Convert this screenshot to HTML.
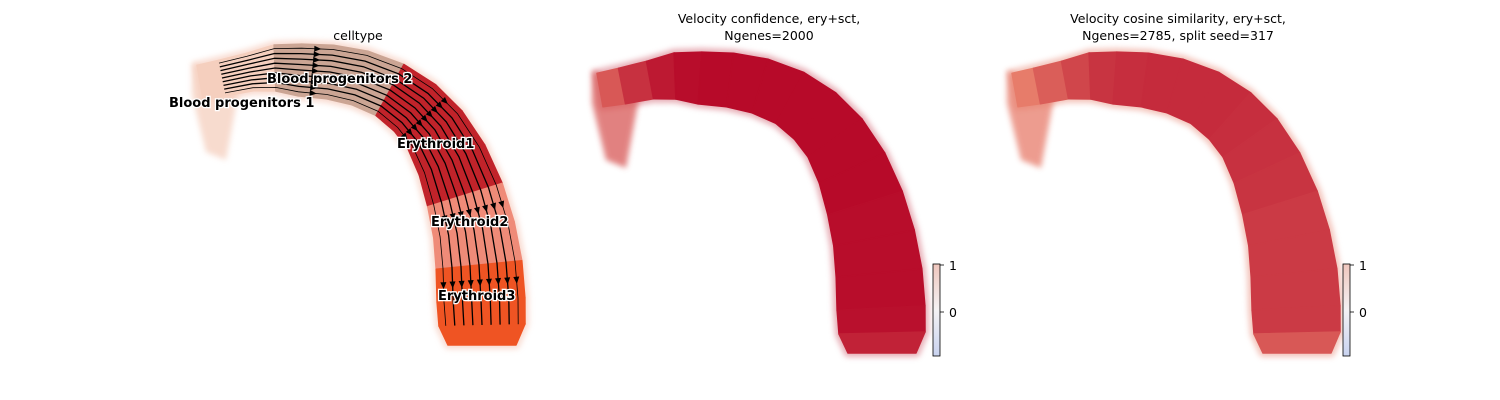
<!DOCTYPE html>
<html><head><meta charset="utf-8">
<style>
body{margin:0;background:#fff;}
svg{display:block;font-family:"DejaVu Sans","Liberation Sans",sans-serif;}
</style></head>
<body>
<svg id="fig" width="1500" height="400" viewBox="0 0 1500 400" xmlns="http://www.w3.org/2000/svg">
<defs>
<linearGradient id="cbar" x1="0" y1="1" x2="0" y2="0">
<stop offset="0" stop-color="#c9d3f0"/><stop offset="0.5" stop-color="#f4f2f4"/><stop offset="1" stop-color="#efc6bd"/>
</linearGradient>
<filter id="soft" x="-20%" y="-20%" width="140%" height="140%"><feGaussianBlur stdDeviation="3"/></filter>
</defs>
<g id="p1"></g>
<g id="p2"></g>
<g id="p3"></g>
<g font-size="12.5" fill="#000" text-anchor="middle">
<text x="358" y="40">celltype</text>
<text x="769" y="23">Velocity confidence, ery+sct,</text>
<text x="769" y="40">Ngenes=2000</text>
<text x="1178" y="23">Velocity cosine similarity, ery+sct,</text>
<text x="1178" y="40">Ngenes=2785, split seed=317</text>
</g>
</svg>
<script>
// trajectory centreline (panel-1 coordinates) and band widths
const trajX = [200,222,250,275,300,330,360,390,415,435,452,465,474,479,481,482,482];
const trajY = [82,78,72,68,70,72,78,90,108,130,160,195,230,265,300,325,345];
const trajW = [34,36,38,46,52,54,56,58,62,66,72,78,82,86,88,86,68];
// cell type per segment
const cellTypes = ["BP1","BP1","BP1","BP2","BP2","BP2","BP2","Ery1","Ery1","Ery1","Ery1","Ery2","Ery2","Ery3","Ery3","Ery3"];
const typeColor = {BP1:"#f5cfbe",BP2:"#cba594",Ery1:"#c1232a",Ery2:"#ef8b78",Ery3:"#ef5423"};
// velocity confidence per segment
const confidence = [0.72,0.85,0.93,0.97,0.98,0.98,0.98,0.98,0.98,0.98,0.98,0.97,0.97,0.97,0.96,0.9];
// cosine similarity per segment
const cosine = [0.6,0.7,0.78,0.84,0.86,0.87,0.87,0.87,0.86,0.85,0.84,0.82,0.82,0.82,0.82,0.72];
const labels = ["Blood progenitors 1","Blood progenitors 2","Erythroid1","Erythroid2","Erythroid3"];
const labelX = [169,267,397,431,438];
const labelY = [107,83,148,226,300];
const cbarTicks = [1,0];

const NS="http://www.w3.org/2000/svg";
function mk(tag,attrs,parent){const e=document.createElementNS(NS,tag);for(const k in attrs)e.setAttribute(k,attrs[k]);parent.appendChild(e);return e;}
function lerp(a,b,t){return a.map((v,i)=>Math.round(v+(b[i]-v)*t));}
function coolwarm(v){
  const blue=[60,78,194],lb=[141,176,254],white=[221,221,221],lr=[244,154,123],red=[180,4,38];
  let c;
  if(v>=0.5)c=lerp(lr,red,(v-0.5)*2);else if(v>=0)c=lerp(white,lr,v*2);
  else if(v>=-0.5)c=lerp(white,lb,-v*2);else c=lerp(lb,blue,(-v-0.5)*2);
  return "rgb("+c.join(",")+")";
}
function normal(i){
  const i0=Math.max(i-1,0),i1=Math.min(i+1,trajX.length-1);
  const tx=trajX[i1]-trajX[i0],ty=trajY[i1]-trajY[i0];const L=Math.hypot(tx,ty);
  return [-ty/L,tx/L];
}
function edgePt(i,off,dx,dy){const n=normal(i);return [trajX[i]+n[0]*off+dx,trajY[i]+n[1]*off+dy];}
function band(g,dx,dy,colorFn,edgeCol){
  const n=trajX.length;let L=[],R=[];
  for(let i=0;i<n;i++){L.push(edgePt(i,trajW[i]/2,dx,dy));R.push(edgePt(i,-trajW[i]/2,dx,dy));}
  const outline=L.concat(R.slice().reverse()).map(p=>p.map(v=>v.toFixed(1)).join(",")).join(" ");
  const o=mk("polygon",{points:outline,fill:edgeCol,stroke:edgeCol,"stroke-width":8,"stroke-linejoin":"round",opacity:0.5,filter:"url(#soft)"},g);
  
  
  const t=mk("polygon",{points:`${dx+192},${dy+62} ${dx+240},${dy+84} ${dx+226},${dy+160} ${dx+206},${dy+152} ${dx+192},${dy+95}`,fill:colorFn(0),opacity:0.75,filter:"url(#soft)"},g);
  
  
  for(let i=0;i<n-1;i++){
    const pts=[L[i],L[i+1],R[i+1],R[i]].map(p=>p.map(v=>v.toFixed(1)).join(",")).join(" ");
    const q=mk("polygon",{points:pts,fill:colorFn(i),stroke:colorFn(i),"stroke-width":1.5,"stroke-linejoin":"round"},g);
    
    
  }
}
// panel 1
const p1=document.getElementById("p1");
band(p1,0,0,i=>typeColor[cellTypes[i]],"#f3b9a5");
for(let k=-4;k<=4;k++){
  let d="";
  for(let i=1;i<trajX.length-1;i++){
    const p=edgePt(i,k*trajW[i]/9.5,0,0);
    d+=(d?"L":"M")+p[0].toFixed(1)+","+p[1].toFixed(1);
  }
  const s=mk("path",{d:d,fill:"none",stroke:"#000","stroke-width":Math.abs(k)==4?0.8:1.3},p1);
  
  
  for(const i of [4,8,11,13]){
    const a0=edgePt(i,k*trajW[i]/9.5,0,0),a1=edgePt(i+1,k*trajW[i+1]/9.5,0,0);
    const tx=a1[0]-a0[0],ty=a1[1]-a0[1];const Ln=Math.hypot(tx,ty);const ux=tx/Ln,uy=ty/Ln,nx=-uy,ny=ux;
    const x=a0[0]+ux*Ln*0.5,y=a0[1]+uy*Ln*0.5;
    const a=mk("polygon",{points:`${x+ux*4},${y+uy*4} ${x-ux*3+nx*3},${y-uy*3+ny*3} ${x-ux*3-nx*3},${y-uy*3-ny*3}`,fill:"#000"},p1);
    
    
  }
}
labels.forEach((t,i)=>{
  const e=mk("text",{x:labelX[i],y:labelY[i],"font-size":13,"font-weight":"bold",fill:"#000",stroke:"#fff","stroke-width":2.5,"paint-order":"stroke"},p1);
  e.textContent=t;
  
  
});
// panels 2 & 3
band(document.getElementById("p2"),400,8,i=>coolwarm(confidence[i]),"#d06070");
band(document.getElementById("p3"),815,8,i=>coolwarm(cosine[i]),"#e88a78");
// colorbars
[[933,"p2"],[1343,"p3"]].forEach(([x,id])=>{
  const g=document.getElementById(id);
  const r=mk("rect",{x:x,y:264,width:7,height:92,fill:"url(#cbar)",stroke:"#000","stroke-width":0.8},g);
  
  
  cbarTicks.forEach(v=>{
    const y=312-47*v;
    const tl=mk("line",{x1:x+7,y1:y,x2:x+11,y2:y,stroke:"#000","stroke-width":0.8},g);
    
    
    const tt=mk("text",{x:x+16,y:y+5,"font-size":12.5,fill:"#000"},g);
    tt.textContent=v;
    
    
  });
});
</script>
</body></html>
